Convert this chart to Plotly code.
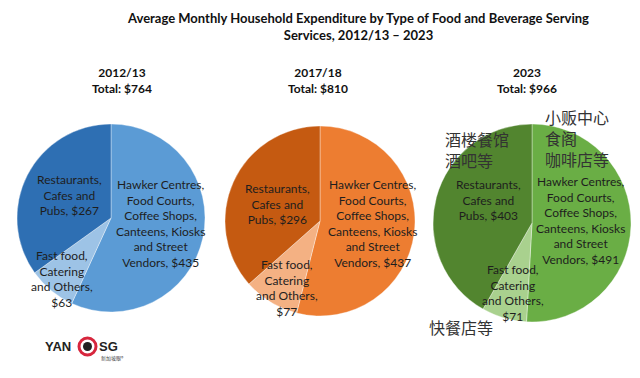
import plotly.graph_objects as go

# ---- data ----
periods = ["2012/13", "2017/18", "2023"]
totals = [764, 810, 966]
categories = [
    "Hawker Centres,<br>Food Courts,<br>Coffee Shops,<br>Canteens, Kiosks<br>and Street<br>Vendors,",
    "Fast food,<br>Catering<br>and Others,",
    "Restaurants,<br>Cafes and<br>Pubs,",
]
values_2012 = [435, 63, 267]
values_2017 = [437, 77, 296]
values_2023 = [491, 71, 403]
all_values = [values_2012, values_2017, values_2023]

colors = [
    ["#5B9BD5", "#9DC3E6", "#2E6FB3"],
    ["#ED7D31", "#F4B183", "#C55A11"],
    ["#6AAE45", "#A9D18E", "#52852F"],
]

W, H = 640, 378
# pie geometry (px): cx, cy, r
geom = [(111, 218, 94), (320, 221, 95), (532, 223, 99)]
# label centres (px) for each slice per pie
label_pos = [
    [(160, 223), (62, 279), (69, 195)],
    [(372, 223), (287, 288), (277, 204)],
    [(580, 220), (513, 293), (488, 200)],
]

FONT = "Lato, Liberation Sans, sans-serif"
fig = go.Figure()
annotations = []

def px(x, y):
    return x / W, 1 - y / H

def ann(lx, ly, text, font, xanchor="center", align="center"):
    x, y = px(lx, ly)
    annotations.append(dict(
        x=x, y=y, xref="paper", yref="paper", showarrow=False,
        xanchor=xanchor, yanchor="middle", text=text, align=align, font=font,
    ))

for i, (vals, (cx, cy, r)) in enumerate(zip(all_values, geom)):
    fig.add_trace(go.Pie(
        values=vals,
        labels=[c.replace("<br>", " ") for c in categories],
        sort=False,
        direction="clockwise",
        rotation=0,
        textinfo="none",
        hoverinfo="label+value",
        marker=dict(colors=colors[i], line=dict(color="rgba(255,255,255,0.6)", width=0.6)),
        domain=dict(x=[(cx - r) / W, (cx + r) / W], y=[1 - (cy + r) / H, 1 - (cy - r) / H]),
        showlegend=False,
    ))
    for j, cat in enumerate(categories):
        lx, ly = label_pos[i][j]
        sep = "<br>" if j == 1 else " "
        ann(lx, ly, f"{cat}{sep}${vals[j]}", dict(family=FONT, size=12, color="#1e1e1e"))
    hx = [122, 318, 527][i]
    ann(hx, 80, f"<b>{periods[i]}</b><br><b>Total: ${totals[i]}</b>",
        dict(family=FONT, size=12, color="#111"))

# title
ann(358, 27, "<b>Average Monthly Household Expenditure by Type of Food and Beverage Serving</b><br><b>Services, 2012/13 – 2023</b>",
    dict(family=FONT, size=13, color="#111"))

# Chinese notes
CJK = "Noto Sans CJK SC"
for txt, (lx, ly) in [
    ("小贩中心<br>食阁<br>咖啡店等", (543, 138)),
    ("酒楼餐馆<br>酒吧等", (443, 149)),
    ("快餐店等", (427, 327)),
]:
    ann(lx, ly, txt, dict(family=CJK, size=16, color="#333"), xanchor="left", align="left")

# logo
ann(58, 346, "<b>YAN</b>", dict(family="Liberation Sans", size=13, color="#222"))
ann(108, 346, "<b>SG</b>", dict(family="Liberation Sans", size=13, color="#222"))
ann(112, 358, "新加坡眼®", dict(family=CJK, size=5, color="#444"))

shapes = [
    dict(type="circle", xref="paper", yref="paper",
         x0=79 / W, x1=96 / W, y0=1 - 355 / H, y1=1 - 338 / H,
         line=dict(color="#D7263D", width=3), fillcolor="white"),
    dict(type="circle", xref="paper", yref="paper",
         x0=83 / W, x1=92 / W, y0=1 - 351 / H, y1=1 - 342 / H,
         line=dict(width=0), fillcolor="#222"),
]

fig.update_layout(
    width=W, height=H,
    margin=dict(l=0, r=0, t=0, b=0),
    paper_bgcolor="white", plot_bgcolor="white",
    annotations=annotations, shapes=shapes,
)
fig.write_html("out.html", config={"displayModeBar": False},
               post_script="document.body.style.margin='0';")
